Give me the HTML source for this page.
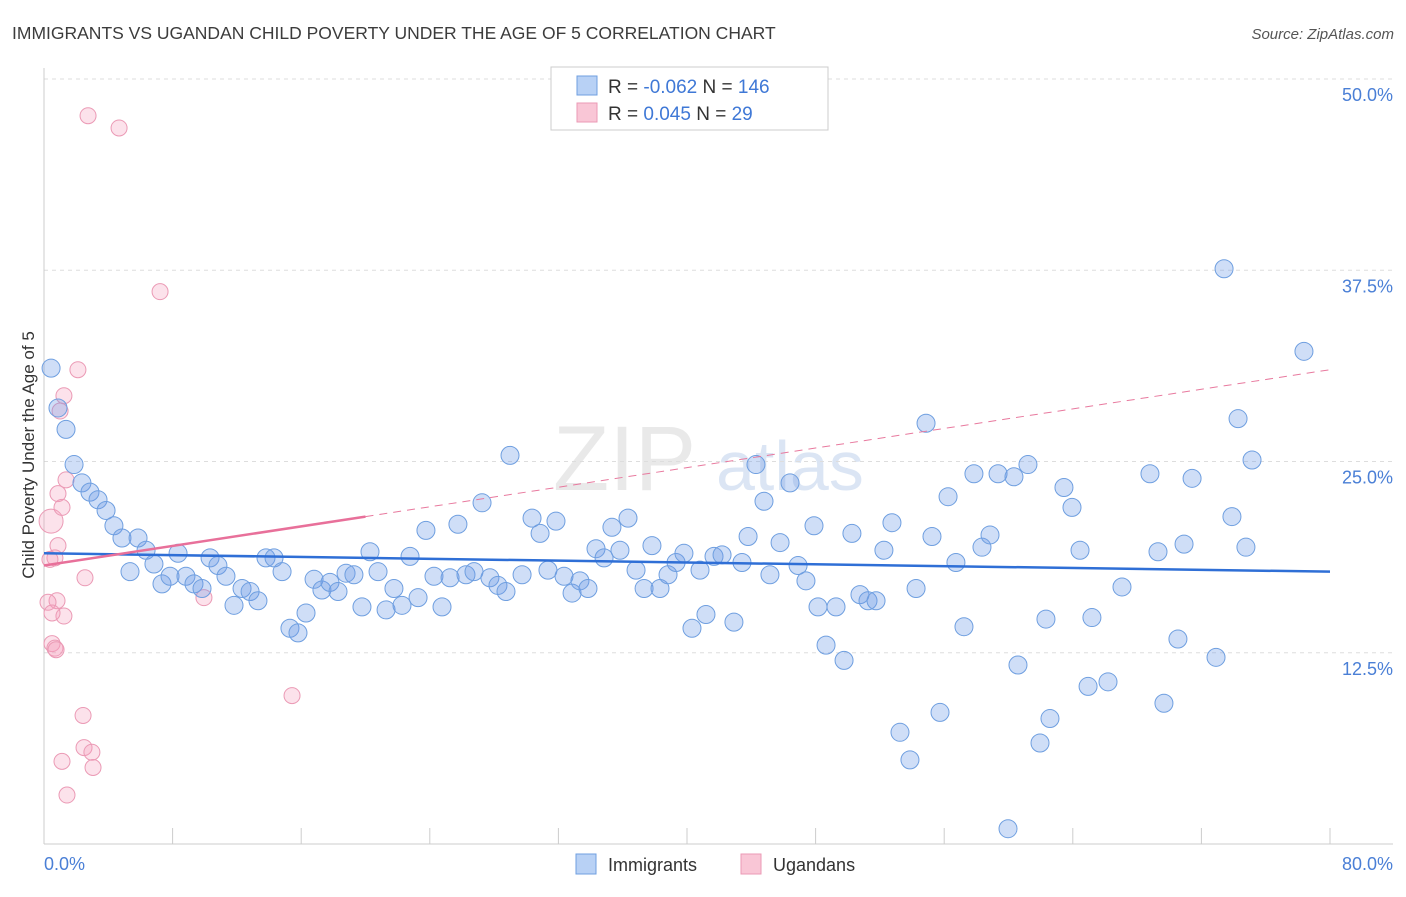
<!DOCTYPE html>
<html><head><meta charset="utf-8"><style>
body{margin:0;background:#fff;font-family:"Liberation Sans",sans-serif;}
svg text{font-family:"Liberation Sans",sans-serif;}
</style></head><body>
<svg id="chart" width="1406" height="892" viewBox="0 0 1406 892" xmlns="http://www.w3.org/2000/svg">
<text x="12" y="39" font-size="17.5" fill="#3c3c3c">IMMIGRANTS VS UGANDAN CHILD POVERTY UNDER THE AGE OF 5 CORRELATION CHART</text>
<text x="1394" y="39" font-size="15" fill="#555" font-style="italic" text-anchor="end">Source: ZipAtlas.com</text>
<g opacity="0.5">
<text x="553" y="490" font-size="92" font-family="Liberation Serif,serif" fill="#d4d4d4">ZIP</text>
<text x="716" y="490" font-size="70" fill="#b9cdea">atlas</text>
</g>
<g id="grid"></g>
<g id="axes"></g>
<text transform="translate(34,455) rotate(-90)" font-size="17" fill="#333" text-anchor="middle">Child Poverty Under the Age of 5</text>
<g id="pinkpts"></g>
<g id="bluepts"></g>
<g id="trends"></g>
<g>
<rect x="551" y="67" width="277" height="63" fill="#fff" stroke="#ccc"/>
<rect x="577" y="76" width="20" height="19" fill="#b8d1f5" stroke="#6f9fe0"/>
<rect x="577" y="103" width="20" height="19" fill="#f9c6d6" stroke="#eb9ab5"/>
<text x="608" y="93" font-size="19" fill="#333">R = <tspan fill="#3f78d6">-0.062</tspan>   N = <tspan fill="#3f78d6">146</tspan></text>
<text x="608" y="120" font-size="19" fill="#333">R =  <tspan fill="#3f78d6"> 0.045</tspan>   N =  <tspan fill="#3f78d6"> 29</tspan></text>
</g>
<g>
<rect x="576" y="854" width="20" height="20" fill="#b8d1f5" stroke="#6f9fe0"/>
<text x="608" y="871" font-size="18" fill="#333">Immigrants</text>
<rect x="741" y="854" width="20" height="20" fill="#f9c6d6" stroke="#eb9ab5"/>
<text x="773" y="871" font-size="18" fill="#333">Ugandans</text>
</g>
</svg>
<script>
const blueX=[0.44,0.87,1.37,1.87,2.36,2.86,3.36,3.86,4.35,4.85,5.35,5.85,6.35,6.84,7.34,7.84,8.34,8.83,9.33,9.83,10.33,10.82,11.32,11.82,12.32,12.82,13.31,13.81,14.31,14.81,15.30,15.80,16.30,16.80,17.29,17.79,18.29,18.79,19.28,19.78,20.28,20.78,21.28,21.77,22.27,22.77,23.27,23.76,24.26,24.76,25.26,25.75,26.25,26.75,27.25,27.74,28.24,28.74,28.99,29.74,30.36,30.86,31.35,31.85,32.35,32.85,33.34,33.84,34.34,34.84,35.33,35.83,36.33,36.83,37.33,37.82,38.32,38.82,39.32,39.81,40.31,40.81,41.18,41.68,42.18,42.92,43.42,43.80,44.29,44.79,45.16,45.79,46.41,46.91,47.40,47.90,48.15,48.65,49.27,49.77,50.26,50.76,51.26,51.76,52.25,52.75,53.25,53.87,54.25,54.87,55.24,55.74,56.24,56.73,57.23,57.85,58.35,58.85,59.35,59.97,60.34,60.59,61.21,61.96,62.33,62.58,63.45,63.95,64.45,64.95,65.19,66.19,67.06,68.80,69.30,69.67,70.54,70.92,71.42,72.91,73.41,73.90,74.28,74.77,75.15,78.38];
const blueY=[31.1,28.5,27.1,24.8,23.6,23.0,22.5,21.8,20.8,20.0,17.8,20.0,19.2,18.3,17.0,17.5,19.0,17.5,17.0,16.7,18.7,18.2,17.5,15.6,16.7,16.5,15.9,18.7,18.7,17.8,14.1,13.8,15.1,17.3,16.6,17.1,16.5,17.7,17.6,15.5,19.1,17.8,15.3,16.7,15.6,18.8,16.1,20.5,17.5,15.5,17.4,20.9,17.6,17.8,22.3,17.4,16.9,16.5,25.4,17.6,21.3,20.3,17.9,21.1,17.5,16.4,17.2,16.7,19.3,18.7,20.7,19.2,21.3,17.9,16.7,19.5,16.7,17.6,18.4,19.0,14.1,17.9,15.0,18.8,18.9,14.5,18.4,20.1,24.8,22.4,17.6,19.7,23.6,18.2,17.2,20.8,15.5,13.0,15.5,12.0,20.3,16.3,15.9,15.9,19.2,21.0,7.3,5.5,16.7,27.5,20.1,8.6,22.7,18.4,14.2,24.2,19.4,20.2,24.2,1.0,24.0,11.7,24.8,6.6,14.7,8.2,23.3,22.0,19.2,10.3,14.8,10.6,16.8,24.2,19.1,9.2,13.4,19.6,23.9,12.2,37.6,21.4,27.8,19.4,25.1,32.2];
const pinkX=[0.44,0.68,0.81,0.87,0.25,0.50,0.68,1.0,0.87,1.12,1.24,1.37,1.24,2.11,2.55,2.43,2.49,2.74,2.98,3.05,1.12,1.43,4.67,7.22,9.95,15.43,0.50,0.75,0.37];
const pinkY=[21.1,18.7,15.9,19.5,15.8,13.1,12.8,28.3,22.9,22.0,14.9,23.8,29.3,31.0,17.4,8.4,6.3,47.6,6.0,5.0,5.4,3.2,46.8,36.1,16.1,9.7,15.1,12.7,18.6];
const blueTrend=[19.0,17.8];
const pinkTrend=[18.2,31.0];
const yTicks=[12.5,25.0,37.5,50.0];
const xTickVals=[0,10,20,30,40,50,60,70,80];
const NS="http://www.w3.org/2000/svg";
const X0=44,X1=1330,Y0=844,Ytop=79;
function sx(v){return X0+(v/80)*(X1-X0);}
function sy(v){return Y0-(v/50)*(Y0-Ytop);}
function mk(tag,attrs,parent){const e=document.createElementNS(NS,tag);for(const k in attrs)e.setAttribute(k,attrs[k]);parent.appendChild(e);return e;}
const grid=document.getElementById('grid'),axes=document.getElementById('axes');
yTicks.forEach(t=>{
 const l=mk('line',{x1:X0,x2:1393,y1:sy(t),y2:sy(t),stroke:'#ddd','stroke-dasharray':'4,4'},grid);
 
 
 const tx=mk('text',{x:1393,y:sy(t)+22,'font-size':18,fill:'#4a7fd6','text-anchor':'end'},axes);
 tx.textContent=t.toFixed(1)+'%';
 
 
});
mk('line',{x1:X0,x2:X0,y1:68,y2:Y0,stroke:'#ccc'},axes);
mk('line',{x1:X0,x2:1393,y1:Y0,y2:Y0,stroke:'#ccc'},axes);
for(let i=1;i<=10;i++){const v=i*8;mk('line',{x1:sx(v),x2:sx(v),y1:828,y2:Y0,stroke:'#ccc'},axes);}
const xl=mk('text',{x:44,y:870,'font-size':18,fill:'#4a7fd6'},axes);xl.textContent='0.0%';


const xr=mk('text',{x:1393,y:870,'font-size':18,fill:'#4a7fd6','text-anchor':'end'},axes);xr.textContent='80.0%';


const bp=document.getElementById('bluepts'),pp=document.getElementById('pinkpts');
pinkX.forEach((v,i)=>{
 const c=mk('circle',{cx:sx(v),cy:sy(pinkY[i]),r:i===0?12:8,fill:'rgba(244,160,190,0.3)',stroke:'#eb9ab5','stroke-width':1},pp);
 
 
});
blueX.forEach((v,i)=>{
 const c=mk('circle',{cx:sx(v),cy:sy(blueY[i]),r:9,fill:'rgba(110,155,230,0.33)',stroke:'#6f9fe0','stroke-width':1},bp);
 
 
});
const tr=document.getElementById('trends');
const bl=mk('line',{x1:sx(0),y1:sy(blueTrend[0]),x2:sx(80),y2:sy(blueTrend[1]),stroke:'#2f6fd6','stroke-width':2.5},tr);


const pAt=v=>pinkTrend[0]+(pinkTrend[1]-pinkTrend[0])*v/80;
const pd=mk('line',{x1:sx(20),y1:sy(pAt(20)),x2:sx(80),y2:sy(pAt(80)),stroke:'#e8799e','stroke-width':1,'stroke-dasharray':'8,6'},tr);


const ps=mk('line',{x1:sx(0),y1:sy(pAt(0)),x2:sx(20),y2:sy(pAt(20)),stroke:'#e8709a','stroke-width':2.5},tr);


</script>
</body></html>
